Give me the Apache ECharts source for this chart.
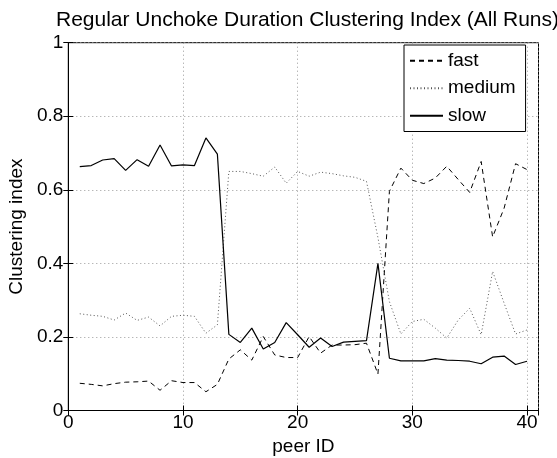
<!DOCTYPE html>
<html>
<head>
<meta charset="utf-8">
<script src="https://cdn.jsdelivr.net/npm/echarts@6/dist/echarts.min.js"></script>
<style>
html,body{margin:0;padding:0;background:#fff;}
#chart{width:557px;height:458px;}
</style>
</head>
<body>
<div id="chart"></div>
<script>
var peerIds = [1,2,3,4,5,6,7,8,9,10,11,12,13,14,15,16,17,18,19,20,21,22,23,24,25,26,27,28,29,30,31,32,33,34,35,36,37,38,39,40];
var fast = [0.074,0.071,0.067,0.073,0.077,0.078,0.080,0.055,0.081,0.076,0.076,0.051,0.071,0.140,0.165,0.137,0.201,0.151,0.144,0.144,0.201,0.156,0.178,0.178,0.179,0.183,0.099,0.596,0.659,0.626,0.617,0.632,0.664,0.628,0.593,0.677,0.472,0.550,0.671,0.655];
var medium = [0.263,0.259,0.256,0.246,0.265,0.245,0.254,0.230,0.256,0.259,0.256,0.210,0.233,0.650,0.650,0.644,0.637,0.662,0.618,0.650,0.637,0.648,0.644,0.638,0.634,0.623,0.470,0.296,0.208,0.242,0.248,0.224,0.197,0.246,0.278,0.206,0.378,0.292,0.208,0.219];
var slow = [0.663,0.666,0.681,0.685,0.653,0.682,0.664,0.722,0.665,0.668,0.666,0.741,0.697,0.207,0.185,0.224,0.167,0.185,0.239,0.206,0.172,0.197,0.174,0.186,0.188,0.190,0.400,0.142,0.135,0.135,0.135,0.141,0.137,0.136,0.134,0.127,0.145,0.148,0.125,0.134];
var seriesNames = ['fast','medium','slow'];
var titleText = 'Regular Unchoke Duration Clustering Index (All Runs)';
var xName = 'peer ID';
var yName = 'Clustering index';

function pairs(vals){ return peerIds.map(function(id,i){ return [id, vals[i]]; }); }

var FONT = "'Liberation Sans', Arial, sans-serif";
var chart = echarts.init(document.getElementById('chart'), null, {renderer:'canvas'});
var axisLineStyle = {show:true, lineStyle:{color:'#000', width:1}};
var axisTickStyle = {show:true, inside:true, length:5, lineStyle:{color:'#000'}};
chart.setOption({
  animation:false,
  backgroundColor:'#fff',
  title:{
    text:titleText, left:302.5, top:5, textAlign:'center',
    textStyle:{fontFamily:FONT, fontSize:21, fontWeight:'normal', color:'#000'}
  },
  legend:{
    data:seriesNames, orient:'vertical', left:404, top:45,
    itemWidth:33, itemHeight:14, itemGap:0,
    padding:[2,10,2,5],
    backgroundColor:'#fff', borderColor:'#000', borderWidth:1, borderRadius:0,
    selectedMode:false,
    itemStyle:{opacity:0},
    textStyle:{fontFamily:FONT, fontSize:19, color:'#000', lineHeight:27.5}
  },
  grid:{left:68.3, right:18.5, top:42.7, bottom:47.5, show:true, borderColor:'#000', borderWidth:1, containLabel:false, outerBoundsMode:'none'},
  xAxis:[{
    type:'value', min:0, max:41, interval:10, position:'bottom',
    name:xName, nameLocation:'middle', nameGap:22,
    nameTextStyle:{fontFamily:FONT, fontSize:19, color:'#000'},
    axisLine:axisLineStyle, axisTick:axisTickStyle,
    axisLabel:{fontFamily:FONT, fontSize:19, color:'#000', margin:3, showMaxLabel:false},
    splitLine:{show:true, lineStyle:{color:'#999', type:[1,3], width:1}}
  },{
    type:'value', min:0, max:41, interval:10, position:'top',
    axisLine:axisLineStyle, axisTick:axisTickStyle,
    axisLabel:{show:false}, splitLine:{show:false}
  }],
  yAxis:[{
    type:'value', min:0, max:1, interval:0.2, position:'left',
    name:yName, nameLocation:'middle', nameGap:36,
    nameTextStyle:{fontFamily:FONT, fontSize:19, color:'#000'},
    axisLine:axisLineStyle, axisTick:axisTickStyle,
    axisLabel:{fontFamily:FONT, fontSize:19, color:'#000', margin:5},
    splitLine:{show:true, lineStyle:{color:'#999', type:[1,3], width:1}}
  },{
    type:'value', min:0, max:1, interval:0.2, position:'right',
    axisLine:axisLineStyle, axisTick:axisTickStyle,
    axisLabel:{show:false}, splitLine:{show:false}
  }],
  series:[
    {name:'fast', type:'line', data:pairs(fast), symbol:'none', z:3,
     lineStyle:{color:'#000', width:1, type:[5,4]}, itemStyle:{color:'#000'}},
    {name:'medium', type:'line', data:pairs(medium), symbol:'none', z:2,
     lineStyle:{color:'#555', width:1, type:[1,2.5]}, itemStyle:{color:'#555'}},
    {name:'slow', type:'line', data:pairs(slow), symbol:'none', z:4,
     lineStyle:{color:'#000', width:1.2, type:'solid'}, itemStyle:{color:'#000'}}
  ]
});
</script>
</body>
</html>
